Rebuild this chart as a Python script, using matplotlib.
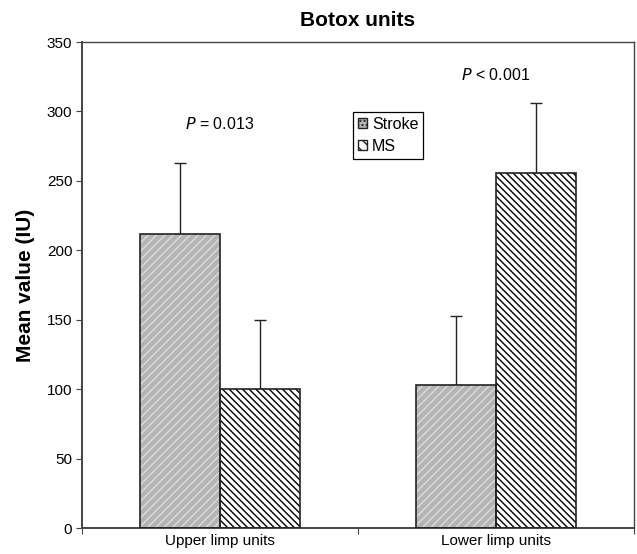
import matplotlib
matplotlib.use("Agg")
import matplotlib.pyplot as plt
import numpy as np
from matplotlib.patches import Patch

plt.rcParams['font.family'] = ['Liberation Sans', 'DejaVu Sans']

categories = ["Upper limp units", "Lower limp units"]
series_names = ["Stroke", "MS"]
stroke_means = [212, 103]
stroke_err = [51, 50]
ms_means = [100, 256]
ms_err = [50, 50]
p_labels = ["= 0.013", "< 0.001"]
p_heights = [291, 326]

W, H = 637, 554
fig = plt.figure(figsize=(W / 100, H / 100), dpi=100)
ax = fig.add_axes([82 / W, (H - 528) / H, (634 - 82) / W, (528 - 42) / H])

x = np.arange(len(categories)) + 0.5
w = 0.29

# Stroke bars: gray with light diagonal stripes
ax.bar(x - w/2, stroke_means, w, color='#b4b4b4', edgecolor='#dcdcdc', hatch='////', linewidth=0, zorder=2)
ax.bar(x - w/2, stroke_means, w, fill=False, edgecolor='#222222', linewidth=1.2, zorder=3)
ax.errorbar(x - w/2, stroke_means, yerr=[np.zeros(2), stroke_err], fmt='none', ecolor='#222222',
            elinewidth=1, capsize=4, capthick=1, zorder=1)

# MS bars: dense black backslash hatch
ax.bar(x + w/2, ms_means, w, color='white', edgecolor='black', hatch='\\\\\\\\\\', linewidth=0, zorder=2)
ax.bar(x + w/2, ms_means, w, fill=False, edgecolor='#222222', linewidth=1.2, zorder=3)
ax.errorbar(x + w/2, ms_means, yerr=[np.zeros(2), ms_err], fmt='none', ecolor='#222222',
            elinewidth=1, capsize=4, capthick=1, zorder=1)

ax.set_xlim(0, 2)
ax.set_ylim(0, 350)
ax.set_yticks(np.arange(0, 351, 50))
ax.set_xticks([0, 1, 2])
ax.set_xticklabels([])
ax.set_xticks(x, minor=True)
ax.set_xticklabels(categories, minor=True, fontsize=11)
ax.tick_params(axis='x', which='minor', length=0, pad=4)
ax.tick_params(axis='x', which='major', length=4, direction='out', color='#444444')
ax.tick_params(axis='y', length=4, direction='out', labelsize=11, color='#444444', pad=3)

for s in ax.spines.values():
    s.set_color('#444444')
    s.set_linewidth(1.0)
ax.spines['left'].set_linewidth(1.4)
ax.spines['bottom'].set_linewidth(1.4)

ax.set_ylabel("Mean value (IU)", fontsize=15, fontweight='bold')
ax.yaxis.set_label_coords((35 - 82) / (634 - 82), 0.5)
fig.text(358 / W, 1 - 21 / H, "Botox units", ha='center', va='center', fontsize=15, fontweight='bold')

for xi, lab, h in zip(x, p_labels, p_heights):
    ax.text(xi, h, r"$\it{P}$ " + lab, ha='center', va='center', fontsize=11.5)

handles = [Patch(facecolor='#b4b4b4', edgecolor='#222222', hatch='....'),
           Patch(facecolor='white', edgecolor='#222222', hatch='\\\\\\')]
leg = ax.legend(handles, series_names, loc='upper left',
                bbox_to_anchor=((353 - 82) / (634 - 82), (528 - 112) / (528 - 42)),
                fontsize=11.5, handlelength=0.6, handleheight=0.6, handletextpad=0.3,
                borderpad=0.3, labelspacing=0.45, fancybox=False, framealpha=1,
                edgecolor='black', borderaxespad=0)
leg.get_frame().set_linewidth(0.9)

fig.savefig("out.png", dpi=100)
